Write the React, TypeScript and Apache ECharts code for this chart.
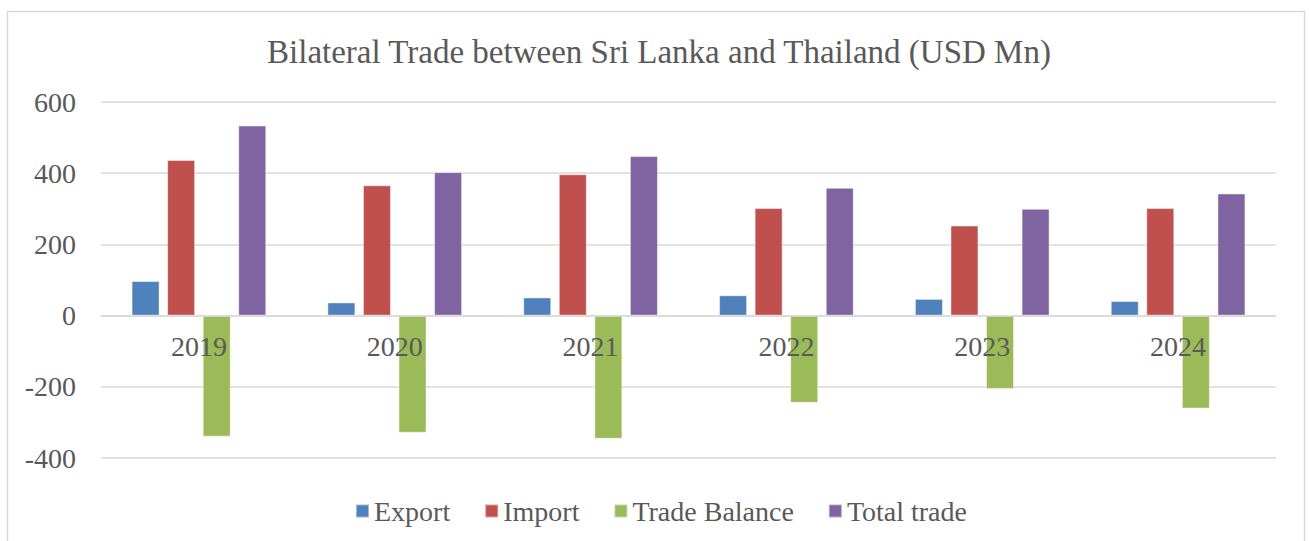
import React, { useEffect, useRef } from "react";
import * as echarts from "echarts";

const years = ["2019", "2020", "2021", "2022", "2023", "2024"];
const exportValues = [97, 37, 51, 57, 47, 41];
const importValues = [437, 366, 397, 302, 253, 302];
const tradeBalanceValues = [-340, -329, -346, -245, -206, -261];
const totalTradeValues = [534, 403, 448, 359, 300, 343];

const seriesNames = ["Export", "Import", "Trade Balance", "Total trade"];
const seriesColors = ["#4F81BD", "#C0504D", "#9BBB59", "#8064A2"];
const seriesValues = [exportValues, importValues, tradeBalanceValues, totalTradeValues];

const FONT = "'Liberation Serif', 'DejaVu Serif', serif";
const TEXT = "#595959";
const GRID = "#d9d9d9";

export default function App() {
  const ref = useRef<HTMLDivElement>(null);
  useEffect(() => {
    if (!ref.current) return;
    const chart = echarts.init(ref.current, null, { renderer: "svg" });
    chart.setOption({
      animation: false,
      backgroundColor: "#ffffff",
      title: {
        text: "Bilateral Trade between Sri Lanka and Thailand (USD Mn)",
        left: 654,
        textAlign: "center",
        top: 30,
        textStyle: { fontFamily: FONT, fontSize: 33, fontWeight: "normal", color: TEXT },
      },
      graphic: [
        {
          type: "rect",
          shape: { x: 7.5, y: 11.5, width: 1297, height: 560 },
          style: { fill: "none", stroke: GRID, lineWidth: 1.5 },
          silent: true,
        },
      ],
      legend: {
        left: 350,
        top: 492,
        itemWidth: 13,
        itemHeight: 13,
        itemGap: 34,
        icon: "rect",
        textStyle: { fontFamily: FONT, fontSize: 28, color: TEXT },
        data: seriesNames,
      },
      grid: { left: 101, right: 33, top: 102, bottom: 83 },
      xAxis: {
        type: "category",
        data: years,
        z: 10,
        position: "bottom",
        offset: -142,
        axisLine: { onZero: false, lineStyle: { color: GRID, width: 1.5 } },
        axisTick: { show: false },
        axisLabel: { fontFamily: FONT, fontSize: 28, color: TEXT, margin: 16 },
      },
      yAxis: {
        type: "value",
        min: -400,
        max: 600,
        interval: 200,
        axisLine: { show: false },
        axisTick: { show: false },
        splitLine: { lineStyle: { color: GRID, width: 1.5 } },
        axisLabel: { fontFamily: FONT, fontSize: 28, color: TEXT, margin: 25 },
      },
      series: seriesNames.map((name, i) => ({
        name,
        type: "bar",
        data: seriesValues[i],
        barWidth: 28,
        barGap: "27%",
        itemStyle: {
          color: seriesColors[i],
          borderColor: "rgba(255,255,255,0.45)",
          borderWidth: 1,
        },
      })),
    });
    return () => chart.dispose();
  }, []);
  return (
    <div
      ref={ref}
      style={{ position: "fixed", left: 0, top: 0, width: 1309, height: 541 }}
    />
  );
}
